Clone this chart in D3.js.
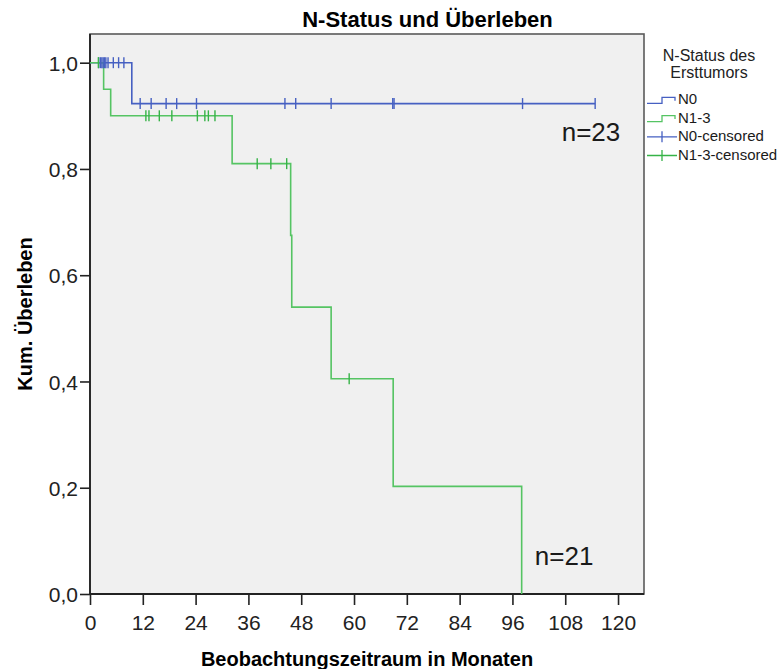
<!DOCTYPE html>
<html>
<head>
<meta charset="utf-8">
<script src="https://cdn.jsdelivr.net/npm/d3@7"></script>
<style>
  html, body { margin: 0; padding: 0; background: #fff; }
  svg { display: block; font-family: "Liberation Sans", Arial, sans-serif; }
</style>
</head>
<body>
<svg id="chart" width="782" height="669"></svg>
<script>
// Kaplan-Meier survival by N-status of the primary tumour
const groups = ["N0", "N1-3"];
const legendLabels = ["N0", "N1-3", "N0-censored", "N1-3-censored"];
const groupCounts = ["n=23", "n=21"];

// step times (months) and cumulative survival after each step
const n0StepTimes = [0, 9.5];
const n0StepSurv = [1.0, 0.923];
const n0LastTime = 114.8;
const n0Censored = [2.0, 2.4, 2.7, 3.0, 3.3, 3.6, 4.1, 5.3, 6.5, 7.7,
                    11.4, 13.9, 17.3, 19.7, 24.2, 44.3, 46.75, 54.8, 68.8, 69.1, 98.3, 114.8];

const n13StepTimes = [0, 3.1, 4.7, 32.3, 45.6, 45.85, 54.8, 68.9, 98.1];
const n13StepSurv = [1.0, 0.95, 0.90, 0.81, 0.675, 0.54, 0.405, 0.2025, 0.0];
const n13LastTime = 98.1;
const n13Censored = [1.9, 12.7, 13.4, 15.75, 18.6, 24.4, 26.1, 26.9, 28.4,
                     38.0, 41.1, 44.7, 58.9];

const xTicks = [0, 12, 24, 36, 48, 60, 72, 84, 96, 108, 120];
const yTicks = [0, 0.2, 0.4, 0.6, 0.8, 1.0];

const blue = "#4660c2";
const green = "#55c463";
const greenMark = "#36b347";

const svg = d3.select("#chart");
const plot = { left: 90, right: 644, top: 34, bottom: 594 };

const x = d3.scaleLinear().domain([0, 125.9]).range([plot.left, plot.right]);
const y = d3.scaleLinear().domain([0, 1.054]).range([plot.bottom, plot.top]);

// plot background and frame
svg.append("rect")
  .attr("x", plot.left).attr("y", plot.top)
  .attr("width", plot.right - plot.left).attr("height", plot.bottom - plot.top)
  .attr("fill", "#f0f0f0").attr("stroke", "#5a5a5a").attr("stroke-width", 1.6);

// axes
const fmt = d => d3.format(".1f")(d).replace(".", ",");
const xAxis = svg.append("g")
  .attr("transform", `translate(0,${plot.bottom})`)
  .call(d3.axisBottom(x).tickValues(xTicks).tickSize(11).tickPadding(7).tickFormat(d3.format("d")));
const yAxis = svg.append("g")
  .attr("transform", `translate(${plot.left},0)`)
  .call(d3.axisLeft(y).tickValues(yTicks).tickSize(10).tickPadding(2).tickFormat(fmt));

[xAxis, yAxis].forEach(g => {
  g.select(".domain").remove();
  g.selectAll(".tick line").attr("stroke", "#222").attr("stroke-width", 1.6);
  g.selectAll(".tick text").attr("fill", "#222").attr("font-size", 21)
    .attr("font-family", "'Liberation Sans', Arial, sans-serif");
});
xAxis.selectAll(".tick text").attr("dy", "0.85em");
yAxis.selectAll(".tick text").attr("dy", "0.36em");

// axis lines drawn over the frame
svg.append("line").attr("x1", plot.left).attr("x2", plot.right)
  .attr("y1", plot.bottom).attr("y2", plot.bottom)
  .attr("stroke", "#222").attr("stroke-width", 1.8);
svg.append("line").attr("x1", plot.left).attr("x2", plot.left)
  .attr("y1", plot.top).attr("y2", plot.bottom)
  .attr("stroke", "#222").attr("stroke-width", 1.8);

// survival curves
const stepLine = d3.line().x(d => x(d[0])).y(d => y(d[1])).curve(d3.curveStepAfter);

function curvePoints(times, surv, last) {
  const pts = times.map((t, i) => [t, surv[i]]);
  if (last > times[times.length - 1]) pts.push([last, surv[surv.length - 1]]);
  return pts;
}
function survivalAt(times, surv, t) {
  const i = d3.bisectRight(times, t) - 1;
  return surv[Math.max(0, i)];
}

const series = [
  { times: n0StepTimes, surv: n0StepSurv, last: n0LastTime, cens: n0Censored, line: blue, mark: blue },
  { times: n13StepTimes, surv: n13StepSurv, last: n13LastTime, cens: n13Censored, line: green, mark: greenMark }
];

series.forEach(s => {
  svg.append("path")
    .attr("d", stepLine(curvePoints(s.times, s.surv, s.last)))
    .attr("fill", "none").attr("stroke", s.line).attr("stroke-width", 1.6);
});
series.forEach(s => {
  svg.append("g").selectAll("line").data(s.cens).join("line")
    .attr("x1", d => x(d)).attr("x2", d => x(d))
    .attr("y1", d => y(survivalAt(s.times, s.surv, d)) - 5.5)
    .attr("y2", d => y(survivalAt(s.times, s.surv, d)) + 5.5)
    .attr("stroke", s.mark).attr("stroke-width", 1.4);
});

// group sizes
const countPos = [[107.2, 0.853], [101.1, 0.055]];
groupCounts.forEach((label, i) => {
  svg.append("text")
    .attr("x", x(countPos[i][0])).attr("y", y(countPos[i][1]))
    .attr("font-size", 26).attr("fill", "#1a1a1a").text(label);
});

// titles
svg.append("text").attr("x", 427.5).attr("y", 26.5).attr("text-anchor", "middle")
  .attr("font-size", 22).attr("font-weight", "bold").text("N-Status und Überleben");
svg.append("text").attr("x", (plot.left + plot.right) / 2).attr("y", 666)
  .attr("text-anchor", "middle").attr("font-size", 20).attr("font-weight", "bold")
  .text("Beobachtungszeitraum in Monaten");
svg.append("text")
  .attr("transform", `translate(32,${(plot.top + plot.bottom) / 2}) rotate(-90)`)
  .attr("text-anchor", "middle").attr("font-size", 20).attr("font-weight", "bold")
  .text("Kum. Überleben");

// legend
const legend = svg.append("g");
legend.append("text").attr("x", 709).attr("y", 60.5).attr("text-anchor", "middle")
  .attr("font-size", 16).attr("fill", "#222").text("N-Status des");
legend.append("text").attr("x", 709).attr("y", 78.3).attr("text-anchor", "middle")
  .attr("font-size", 16).attr("fill", "#222").text("Ersttumors");

const legendColors = [blue, green, blue, greenMark];
const legendY = [104.3, 122.6, 141.3, 160];
legendLabels.forEach((label, i) => {
  const by = legendY[i];
  if (i < 2) {
    legend.append("path")
      .attr("d", `M647,${by - 1}H662V${by - 7}H675V${by - 3.5}`)
      .attr("fill", "none").attr("stroke", legendColors[i]).attr("stroke-width", 1.3);
  } else {
    const cy = by - 4.5;
    legend.append("path")
      .attr("d", `M647,${cy}H677M662,${cy - 5.5}V${cy + 5.5}`)
      .attr("fill", "none").attr("stroke", legendColors[i]).attr("stroke-width", 1.3);
  }
  legend.append("text").attr("x", 678).attr("y", by)
    .attr("font-size", 15).attr("fill", "#1a1a1a").text(label);
});
</script>
</body>
</html>
